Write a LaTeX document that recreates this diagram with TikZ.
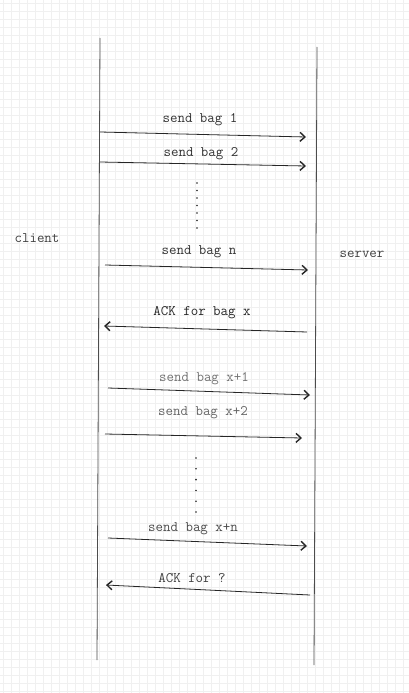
\documentclass[tikz,border=0pt]{standalone}
\usepackage{xcolor}
\usepackage{tikz}
\usetikzlibrary{arrows.meta,positioning}

\tikzset{
    gridline/.style={draw=black!6, line width=0.6pt},
    lifeline/.style={draw=black!70, line width=0.8pt},
    msg/.style={draw=black!85, line width=0.8pt, -{Straight Barb[length=5pt,width=9pt,line width=1.4pt]}},
    msglabel/.style={font=\fontsize{14.5}{16}\selectfont\ttfamily, inner sep=1pt},
    dotmark/.style={circle, fill=black!85, inner sep=0pt, minimum size=1.8pt},
}

\begin{document}
\begin{tikzpicture}[x=1pt,y=-1pt]
    \useasboundingbox (0,0) rectangle (409,693);
    \fill[white] (0,0) rectangle (409,693);
    % background grid
    \foreach \gx in {3,11,...,409}{
        \draw[gridline] (\gx,0) -- (\gx,693);
    }
    \foreach \gy in {3,11,...,693}{
        \draw[gridline] (0,\gy) -- (409,\gy);
    }

    % the two lifelines
    \coordinate (client top) at (100,38);
    \coordinate (client bottom) at (97,660);
    \coordinate (server top) at (317,47);
    \coordinate (server bottom) at (314,665);
    \draw[lifeline] (client top) -- (client bottom);
    \draw[lifeline] (server top) -- (server bottom);
    \node[msglabel, text=black!75] (client) at (37,238) {client};
    \node[msglabel, text=black!75] (server) at (362,254) {server};

    % messages: start, end, label position, label colour, text
    \foreach \m/\xa/\ya/\xb/\yb/\lx/\ly/\lc/\txt in {
        1/100/132/306/137/200/120/black!80/send bag 1,
        2/100/162/306/166/201/154/black!80/send bag 2,
        n/105/265/308/270/199/252/black!80/send bag n,
        ackx/307/332/104/326/202/313/black!85/ACK for bag x,
        x1/108/388/310/395/204/379/black!55/send bag x+1,
        x2/105/434/302/438/203/413/black!60/send bag x+2,
        xn/108/538/307/546/193/529/black!70/send bag x+n,
        ackq/310/595/106/585/192/578/black!75/ACK for ?}{
        \coordinate (from \m) at (\xa,\ya);
        \coordinate (to \m) at (\xb,\yb);
        \draw[msg] (from \m) -- (to \m);
        \node[msglabel, text=\lc] (label \m) at (\lx,\ly) {\txt};
    }

    % dots between the messages
    \foreach \i in {0,...,6}{
        \node[dotmark] (dot a\i) at (197,183+7.5*\i) {};
    }
    \foreach \i in {0,...,5}{
        \node[dotmark] (dot b\i) at (196,458+10.8*\i) {};
    }
\end{tikzpicture}
\end{document}
